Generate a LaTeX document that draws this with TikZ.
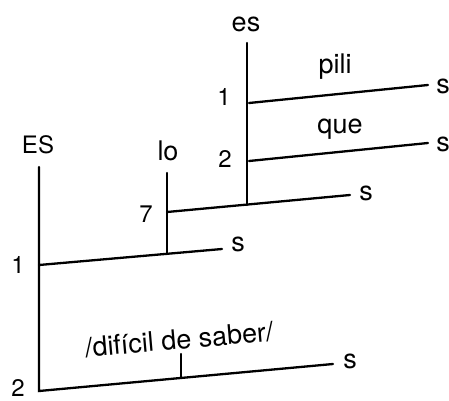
\documentclass[tikz,border=0pt]{standalone}
\usepackage{fontspec}
\setmainfont{TeX Gyre Heros}
\begin{document}
\begin{tikzpicture}[x=1pt,y=1pt,
  lbl/.style={anchor=base,inner sep=0pt,font=\fontsize{24}{28}\selectfont},
  wrd/.style={anchor=base,inner sep=0pt,font=\fontsize{27}{31}\selectfont},
  stem/.style={line width=2.3pt,line cap=round}]
\useasboundingbox (0,0) rectangle (449,400);
% coordinates
\coordinate (esTop) at (247,357);
\coordinate (esBot) at (247,195);
\coordinate (p1a) at (249,297);
\coordinate (p1b) at (428,315);
\coordinate (p2a) at (249,239);
\coordinate (p2b) at (428,257);
\coordinate (l7a) at (167,188);
\coordinate (l7b) at (350,205);
\coordinate (loTop) at (167,227);
\coordinate (loBot) at (167,146);
\coordinate (a1) at (39,135);
\coordinate (b1) at (222,151);
\coordinate (EStop) at (39,233);
\coordinate (a2) at (39,9);
\coordinate (b2) at (333,36);
\coordinate (tTop) at (181,46);
\coordinate (tBot) at (181,22);
% labels
\node[wrd] (es) at (246,368) {es};
\node[lbl] (n1a) at (224,295) {1};
\node[wrd] (pili) at (335,327) {pili};
\node[wrd] (s1) at (443,307) {s};
\node[wrd] (que) at (340,267) {que};
\node[lbl] (n2a) at (225,233) {2};
\node[wrd] (s2) at (443,249) {s};
\node[wrd] (s3) at (366,200) {s};
\node[wrd] (lo) at (168,240) {lo};
\node[lbl] (n7) at (146,178) {7};
\node[lbl] (ES) at (38,247) {ES};
\node[wrd] (s4) at (238,149) {s};
\node[lbl] (n1b) at (18,127) {1};
\node[wrd] (s5) at (350,32) {s};
\node[lbl] (n2b) at (18,4) {2};
\node[wrd,rotate=5] (dif) at (180,51) {/difícil de saber/};
% lines
\draw[stem] (esTop) -- (esBot);
\draw[stem] (p1a) -- (p1b);
\draw[stem] (p2a) -- (p2b);
\draw[stem] (l7a) -- (l7b);
\draw[stem] (loTop) -- (loBot);
\draw[stem] (a1) -- (b1);
\draw[stem] (EStop) -- (a2) -- (b2);
\draw[stem] (tTop) -- (tBot);
\end{tikzpicture}
\end{document}
